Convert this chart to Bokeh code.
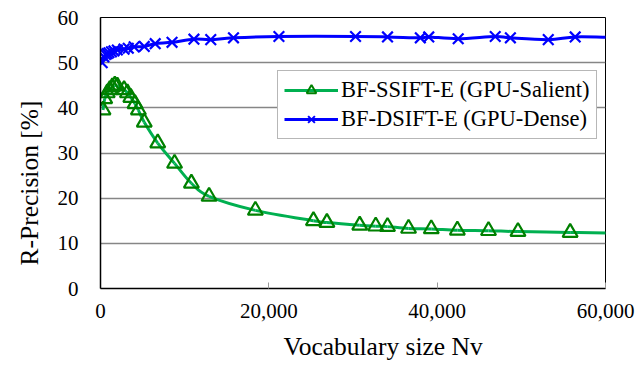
from bokeh.plotting import figure
from bokeh.models import Range1d, FixedTicker, LegendItem, Legend, NumeralTickFormatter, Title
from bokeh.embed import file_html
from bokeh.resources import INLINE

# ---- data ----
salient_x = [300, 500, 800, 1100, 1400, 1700, 2000, 2800, 3200, 3600, 4100, 4500, 5200,
             6800, 8800, 10800, 12900, 18400, 25300, 26900, 30800, 32700, 34100, 36600,
             39300, 42400, 46100, 49600, 55800]
salient_y = [39.5, 42.0, 43.3, 44.0, 44.6, 45.0, 44.8, 44.0, 43.3, 42.3, 40.9, 39.5, 36.8,
             32.2, 27.7, 23.3, 20.4, 17.3, 15.0, 14.6, 14.0, 13.8, 13.7, 13.3,
             13.2, 12.9, 12.8, 12.6, 12.4]
salient_end = (60500, 12.3)

dense_x = [200, 400, 600, 800, 1000, 1300, 1600, 2000, 2800, 3300, 4000, 5200, 6500, 8500,
           11100, 13100, 15800, 21200, 30300, 34100, 38000, 39000, 42500, 46900, 48700,
           53200, 56400]
dense_y = [50.0, 51.3, 51.8, 52.0, 52.2, 52.4, 52.6, 52.8, 53.0, 53.2, 53.5, 53.6, 54.2, 54.5,
           55.2, 55.1, 55.5, 55.8, 55.8, 55.7, 55.5, 55.7, 55.3, 55.8, 55.5, 55.1, 55.7]
dense_end = (60500, 55.6)

labels = ["BF-SSIFT-E (GPU-Salient)", "BF-DSIFT-E (GPU-Dense)"]
x_title = "Vocabulary size Nv"
y_title = "R-Precision [%]"
x_ticks = [0, 20000, 40000, 60000]
y_ticks = [0, 10, 20, 30, 40, 50, 60]

FONT = "Liberation Serif"
GREEN_LINE = "#00B050"
GREEN_MARK = "#008000"
BLUE = "#0000FF"
NAN = float("nan")


def smooth(xs, ys):
    """Excel-like smoothed line as cubic bezier segments (Catmull-Rom)."""
    n = len(xs)
    d = dict(x0=[], y0=[], x1=[], y1=[], cx0=[], cy0=[], cx1=[], cy1=[])
    for i in range(n - 1):
        pm = i - 1 if i > 0 else i
        pp = i + 2 if i + 2 < n else i + 1
        d["x0"].append(xs[i]); d["y0"].append(ys[i])
        d["x1"].append(xs[i + 1]); d["y1"].append(ys[i + 1])
        d["cx0"].append(xs[i] + (xs[i + 1] - xs[pm]) / 6.0)
        d["cy0"].append(ys[i] + (ys[i + 1] - ys[pm]) / 6.0)
        d["cx1"].append(xs[i + 1] - (xs[pp] - xs[i]) / 6.0)
        d["cy1"].append(ys[i + 1] - (ys[pp] - ys[i]) / 6.0)
    return d


p = figure(width=640, height=371, output_backend="svg", toolbar_location=None,
           x_range=Range1d(0, 60000), y_range=Range1d(0, 60),
           min_border_left=100, min_border_right=35, min_border_top=17, min_border_bottom=83)
p.background_fill_color = "white"
p.border_fill_color = "white"
p.outline_line_color = "black"
p.outline_line_width = 1

p.xgrid.grid_line_color = None
p.ygrid.grid_line_color = "#868686"
p.ygrid.grid_line_width = 1.3

p.xaxis.ticker = FixedTicker(ticks=x_ticks)
p.yaxis.ticker = FixedTicker(ticks=y_ticks)
p.xaxis.formatter = NumeralTickFormatter(format="0,0")
p.xaxis.minor_tick_line_color = None
p.yaxis.minor_tick_line_color = None
p.xaxis.major_tick_in = 6
p.xaxis.major_tick_out = 0
p.xaxis.major_tick_line_color = "#999999"
p.yaxis.major_tick_in = 0
p.yaxis.major_tick_out = 0
for ax in (p.xaxis, p.yaxis):
    ax.axis_line_color = "black"
    ax.axis_line_width = 1.5
    ax.major_label_text_font = FONT
    ax.major_label_text_font_size = "21px"
    ax.major_label_text_color = "black"
p.xaxis.major_label_standoff = 15
p.yaxis.major_label_standoff = 22

# axis titles (off-centre like the reference)
p.add_layout(Title(text=x_title, align="left", offset=183, standoff=19, text_font=FONT,
                   text_font_size="25.5px", text_font_style="normal", text_color="black"),
             "below")
p.add_layout(Title(text=y_title, align="left", offset=23, standoff=21, text_font=FONT,
                   text_font_size="25.5px", text_font_style="normal", text_color="black"),
             "left")

sx = salient_x + [salient_end[0]]
sy = salient_y + [salient_end[1]]
dx = dense_x + [dense_end[0]]
dy = dense_y + [dense_end[1]]

p.bezier(source=smooth(sx, sy), x0="x0", y0="y0", x1="x1", y1="y1",
         cx0="cx0", cy0="cy0", cx1="cx1", cy1="cy1", line_color=GREEN_LINE, line_width=3)
p.bezier(source=smooth(dx, dy), x0="x0", y0="y0", x1="x1", y1="y1",
         cx0="cx0", cy0="cy0", cx1="cx1", cy1="cy1", line_color=BLUE, line_width=3)

p.scatter(salient_x, salient_y, marker="triangle", size=15, fill_color=None,
          line_color=GREEN_MARK, line_width=2.2)
p.scatter(dense_x, dense_y, marker="x", size=15, line_color=BLUE, line_width=2.2)

# legend-only renderers (NaN data, so they only draw in the legend)
lg_line_s = p.line([NAN], [NAN], line_color=GREEN_LINE, line_width=3)
lg_mark_s = p.scatter([NAN], [NAN], marker="triangle", size=11, fill_color=None,
                      line_color=GREEN_MARK, line_width=2)
lg_line_d = p.line([NAN], [NAN], line_color=BLUE, line_width=3)
lg_mark_d = p.scatter([NAN], [NAN], marker="x", size=11, line_color=BLUE, line_width=2)

legend = Legend(items=[LegendItem(label=labels[0], renderers=[lg_line_s, lg_mark_s]),
                       LegendItem(label=labels[1], renderers=[lg_line_d, lg_mark_d])],
                location=(177, 149), orientation="vertical")
legend.label_text_font = FONT
legend.label_text_font_size = "22.5px"
legend.label_text_color = "black"
legend.glyph_width = 54
legend.glyph_height = 24
legend.label_height = 24
legend.spacing = 3
legend.padding = 6
legend.margin = 0
legend.label_standoff = 3
legend.border_line_color = "#707070"
legend.border_line_width = 1.2
legend.background_fill_alpha = 1
p.add_layout(legend)

open("out.html", "w").write(file_html(p, INLINE))
